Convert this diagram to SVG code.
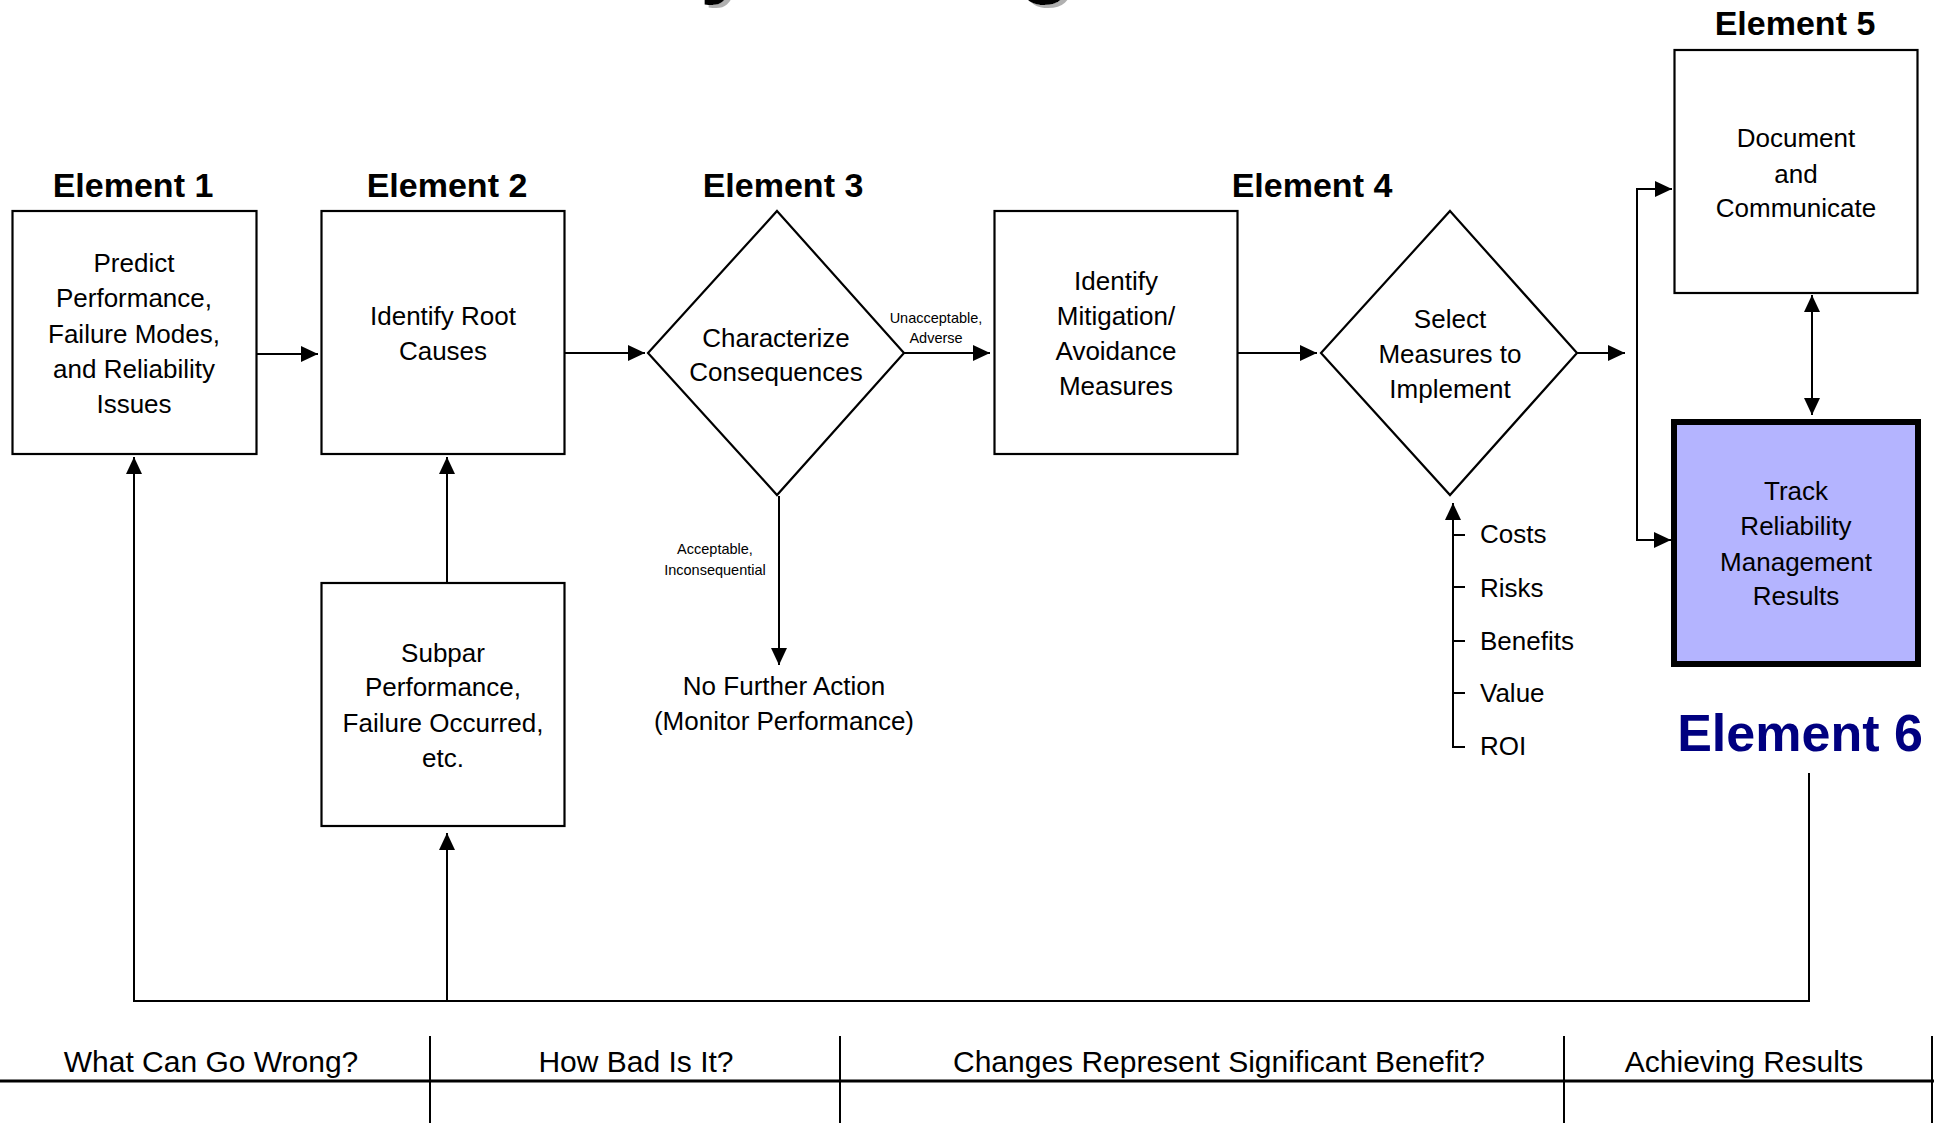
<svg xmlns="http://www.w3.org/2000/svg" width="1940" height="1123" viewBox="0 0 1940 1123">
  <defs>
    <marker id="arrow" markerUnits="userSpaceOnUse" markerWidth="18" markerHeight="18" refX="17" refY="8" orient="auto-start-reverse">
      <path d="M0,0 L17,8 L0,16 Z" fill="#000"/>
    </marker>
    <filter id="drop" x="-20%" y="-20%" width="140%" height="140%">
      <feDropShadow dx="4" dy="3" stdDeviation="0.6" flood-color="#b0b0b0" flood-opacity="1"/>
    </filter>
  </defs>
  <style>
    .box { fill: #fff; stroke: #000; stroke-width: 2.2; }
    .track { fill: #b4b4ff; stroke: #000; stroke-width: 6; }
    .body { font-family: "Liberation Sans", Arial, sans-serif; font-size: 26px; fill: #000; text-anchor: middle; }
    .small { font-family: "Liberation Sans", Arial, sans-serif; font-size: 14.5px; fill: #000; text-anchor: middle; }
    .head { font-family: "Liberation Sans", Arial, sans-serif; font-size: 34px; font-weight: bold; fill: #000; text-anchor: middle; }
    .head6 { font-family: "Liberation Sans", Arial, sans-serif; font-size: 52px; font-weight: bold; fill: #000080; text-anchor: middle; }
    .col { font-family: "Liberation Sans", Arial, sans-serif; font-size: 30px; fill: #000; text-anchor: middle; }
    .list { font-family: "Liberation Sans", Arial, sans-serif; font-size: 26px; fill: #000; }
    .title { font-family: "Liberation Sans", Arial, sans-serif; font-size: 90px; font-weight: bold; fill: #000; filter: url(#drop); }
    .wire { fill: none; stroke: #000; stroke-width: 2; }
    .arrowed { marker-end: url(#arrow); }
    .rule { fill: none; stroke: #000; stroke-width: 2; }
  </style>
  <rect width="1940" height="1123" fill="#fff"/>

  <!-- heading glyph tails that run off the top edge -->
  <g id="title-tails">
    <text class="title" x="700" y="-14">y</text>
    <text class="title" x="1018" y="-14">g</text>
  </g>

  <!-- element headings -->
  <g id="headings">
    <text class="head" x="133" y="197">Element 1</text>
    <text class="head" x="447" y="197">Element 2</text>
    <text class="head" x="783" y="197">Element 3</text>
    <text class="head" x="1312" y="197">Element 4</text>
    <text class="head" x="1795" y="35">Element 5</text>
    <text class="head6" x="1800" y="751">Element 6</text>
  </g>

  <g id="predict">
    <rect class="box" x="12.5" y="211" width="244" height="243"/>
    <text class="body" x="134" y="272">Predict</text>
    <text class="body" x="134" y="307">Performance,</text>
    <text class="body" x="134" y="343">Failure Modes,</text>
    <text class="body" x="134" y="378">and Reliability</text>
    <text class="body" x="134" y="413">Issues</text>
  </g>

  <g id="root-causes">
    <rect class="box" x="321.5" y="211" width="243" height="243"/>
    <text class="body" x="443" y="325">Identify Root</text>
    <text class="body" x="443" y="360">Causes</text>
  </g>

  <g id="subpar">
    <rect class="box" x="321.5" y="583" width="243" height="243"/>
    <text class="body" x="443" y="662">Subpar</text>
    <text class="body" x="443" y="696">Performance,</text>
    <text class="body" x="443" y="732">Failure Occurred,</text>
    <text class="body" x="443" y="767">etc.</text>
  </g>

  <g id="consequences">
    <polygon class="box" points="777,211 904,353 777,495 648,353"/>
    <text class="body" x="776" y="347">Characterize</text>
    <text class="body" x="776" y="381">Consequences</text>
  </g>

  <g id="no-further-action">
    <text class="body" x="784" y="695">No Further Action</text>
    <text class="body" x="784" y="730">(Monitor Performance)</text>
  </g>

  <g id="mitigation">
    <rect class="box" x="994.5" y="211" width="243" height="243"/>
    <text class="body" x="1116" y="290">Identify</text>
    <text class="body" x="1116" y="325">Mitigation/</text>
    <text class="body" x="1116" y="360">Avoidance</text>
    <text class="body" x="1116" y="395">Measures</text>
  </g>

  <g id="select-measures">
    <polygon class="box" points="1450,211 1577,353 1450,495 1321,353"/>
    <text class="body" x="1450" y="328">Select</text>
    <text class="body" x="1450" y="363">Measures to</text>
    <text class="body" x="1450" y="398">Implement</text>
  </g>

  <g id="criteria">
    <text class="list" x="1480" y="543">Costs</text>
    <text class="list" x="1480" y="597">Risks</text>
    <text class="list" x="1480" y="650">Benefits</text>
    <text class="list" x="1480" y="702">Value</text>
    <text class="list" x="1480" y="755">ROI</text>
  </g>

  <g id="document">
    <rect class="box" x="1674.5" y="50" width="243" height="243"/>
    <text class="body" x="1796" y="147">Document</text>
    <text class="body" x="1796" y="183">and</text>
    <text class="body" x="1796" y="217">Communicate</text>
  </g>

  <g id="track-results">
    <rect class="track" x="1674" y="422" width="244" height="242"/>
    <text class="body" x="1796" y="500">Track</text>
    <text class="body" x="1796" y="535">Reliability</text>
    <text class="body" x="1796" y="571">Management</text>
    <text class="body" x="1796" y="605">Results</text>
  </g>

  <g id="connectors">
    <path class="wire arrowed" d="M256,354 H318"/>
    <path class="wire arrowed" d="M565,353 H645"/>
    <path class="wire arrowed" d="M904,353 H990"/>
    <text class="small" x="936" y="323">Unacceptable,</text>
    <text class="small" x="936" y="343">Adverse</text>
    <path class="wire arrowed" d="M1238,353 H1317"/>
    <path class="wire arrowed" d="M1577,353 H1625"/>
    <path class="wire arrowed" d="M1637,365 V189 H1672"/>
    <path class="wire arrowed" d="M1637,365 V540 H1671"/>
    <path class="wire" d="M1812,295 V415" marker-start="url(#arrow)" marker-end="url(#arrow)"/>
    <path class="wire arrowed" d="M779,496 V665"/>
    <text class="small" x="715" y="554">Acceptable,</text>
    <text class="small" x="715" y="575">Inconsequential</text>
    <path class="wire arrowed" d="M447,583 V457"/>
    <path class="wire arrowed" d="M1465,747 H1453 V503"/>
    <path class="wire" d="M1453,535 H1465 M1453,587 H1465 M1453,641 H1465 M1453,693 H1465"/>
    <path class="wire arrowed" d="M1809,773 V1001 H134 V457"/>
    <path class="wire arrowed" d="M447,1001 V833"/>
  </g>

  <!-- column header strip -->
  <g id="columns">
    <line x1="0" y1="1081" x2="1934" y2="1081" stroke="#000" stroke-width="3"/>
    <path class="rule" d="M430,1036 V1123 M840,1036 V1123 M1564,1036 V1123 M1932,1036 V1123"/>
    <text class="col" x="211" y="1072">What Can Go Wrong?</text>
    <text class="col" x="636" y="1072">How Bad Is It?</text>
    <text class="col" x="1219" y="1072">Changes Represent Significant Benefit?</text>
    <text class="col" x="1744" y="1072">Achieving Results</text>
  </g>
</svg>
